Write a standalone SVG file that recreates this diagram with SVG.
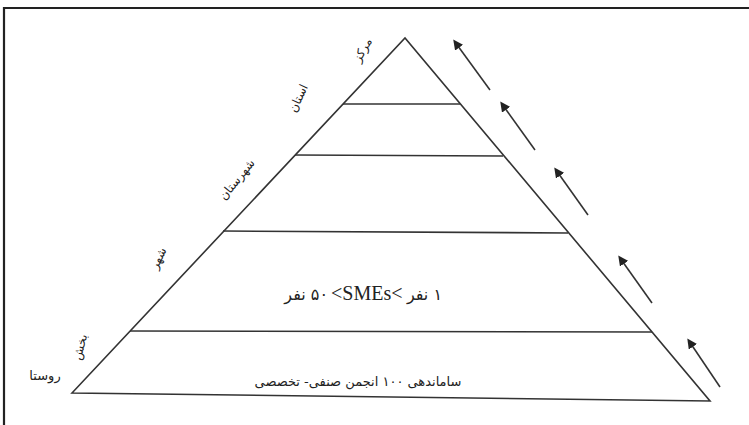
<svg xmlns="http://www.w3.org/2000/svg" width="749" height="425" viewBox="0 0 749 425">
<style>
.ln{stroke:#333;stroke-width:1.6;fill:none}
.ar{stroke:#333;stroke-width:1.6;fill:none;marker-end:url(#ah)}
.fa{font-family:"DejaVu Sans",sans-serif;fill:#222}
.lab{font-size:12px}
</style>
<defs>
<marker id="ah" markerWidth="10" markerHeight="10" refX="7" refY="5" orient="auto" markerUnits="userSpaceOnUse">
<path d="M0,0 L10,5 L0,10 Z" fill="#222"/>
</marker>
</defs>
<rect width="749" height="425" fill="#fff"/>
<path d="M4,425 V8 H749" stroke="#222" stroke-width="2.2" fill="none"/>
<g id="pyramid">
<path class="ln" d="M72,393 L405,38 L710,401 Z"/>
<line class="ln" x1="343" y1="104" x2="460" y2="104"/>
<line class="ln" x1="295" y1="155" x2="503" y2="156"/>
<line class="ln" x1="223" y1="231" x2="568" y2="233"/>
<line class="ln" x1="130" y1="331" x2="652" y2="332"/>
</g>
<g id="level-labels" class="fa lab">
<text transform="translate(366,52) rotate(-60)" text-anchor="middle">مرکز</text>
<text transform="translate(302,100) rotate(-65)" text-anchor="middle">استان</text>
<text transform="translate(240,182) rotate(-51)" text-anchor="middle">شهرستان</text>
<text transform="translate(162,260) rotate(-65)" text-anchor="middle">شهر</text>
<text transform="translate(84,348) rotate(-75)" text-anchor="middle">بخش</text>
<text x="45" y="380" text-anchor="middle" font-size="13">روستا</text>
</g>
<g id="center-text">
<text x="328" y="300" text-anchor="start" font-size="16" class="fa" direction="rtl">۵۰ نفر</text>
<text x="331" y="300" font-size="20" font-family="Liberation Serif, serif" fill="#222">&lt;SMEs&lt;</text>
<text x="442" y="300" text-anchor="start" font-size="16" class="fa" direction="rtl">۱ نفر</text>
</g>
<g id="base-text">
<text x="358" y="386" text-anchor="middle" font-size="13" class="fa" direction="rtl">ساماندهی ۱۰۰ انجمن صنفی- تخصصی</text>
</g>
<g id="connectors">
<line class="ar" x1="490" y1="90" x2="455" y2="42"/>
<line class="ar" x1="535" y1="150" x2="502" y2="104"/>
<line class="ar" x1="588" y1="215" x2="556" y2="170"/>
<line class="ar" x1="652" y1="303" x2="620" y2="258"/>
<line class="ar" x1="720" y1="387" x2="689" y2="341"/>
</g>
</svg>
